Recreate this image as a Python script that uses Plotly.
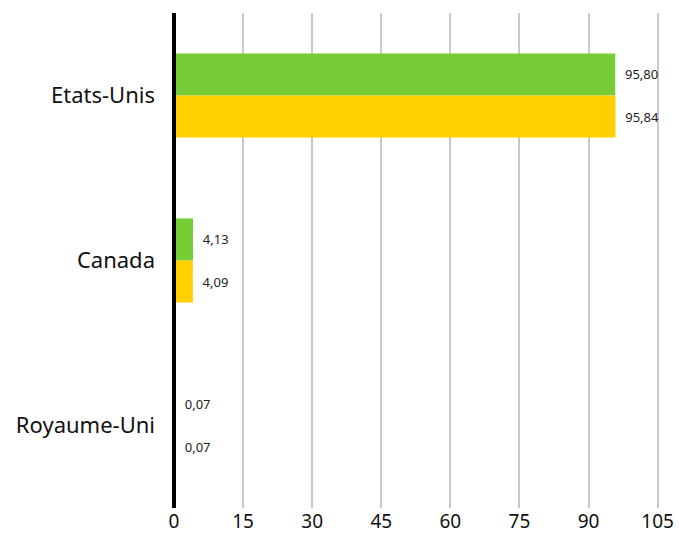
import plotly.graph_objects as go

categories = ["Etats-Unis", "Canada", "Royaume-Uni"]
serie_verte = [95.80, 4.13, 0.07]
serie_jaune = [95.84, 4.09, 0.07]
x_ticks = [0, 15, 30, 45, 60, 75, 90, 105]

fig = go.Figure()
fig.add_trace(go.Bar(
    y=categories, x=serie_verte, orientation="h", marker_color="#76CC35",
    marker_line_width=0,
    texttemplate="  %{x:.2f}", textposition="outside",
    textfont=dict(size=13, color="#222222"), cliponaxis=False, name="A"))
fig.add_trace(go.Bar(
    y=categories, x=serie_jaune, orientation="h", marker_color="#FFCF00",
    marker_line_width=0,
    texttemplate="  %{x:.2f}", textposition="outside",
    textfont=dict(size=13, color="#222222"), cliponaxis=False, name="B"))

# black baseline drawn above the bars
fig.add_shape(type="line", xref="paper", yref="paper", x0=0, x1=0, y0=0, y1=1,
              line=dict(color="black", width=4), layer="above")

fig.update_layout(
    width=679, height=534,
    barmode="group", bargap=0.49, bargroupgap=0,
    separators=", ",
    showlegend=False,
    plot_bgcolor="white", paper_bgcolor="white",
    margin=dict(l=174, r=20, t=13, b=26),
    font=dict(family="Noto Sans, sans-serif", color="#111111"),
    xaxis=dict(range=[0, 105.3], tickvals=x_ticks, showgrid=True,
               gridcolor="#C8C8C8", gridwidth=2, zeroline=False,
               tickfont=dict(size=19), ticks="", automargin=False),
    yaxis=dict(autorange="reversed", tickfont=dict(size=22), ticks="",
               ticklabelstandoff=18, showgrid=False, automargin=False),
)

fig.write_html("out.html", config={"displayModeBar": False},
               post_script="document.body.style.margin='0';")
